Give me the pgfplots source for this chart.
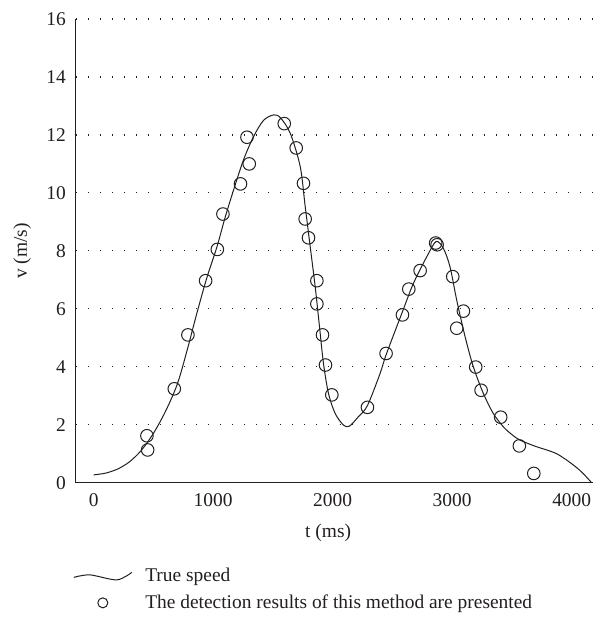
\documentclass[border=0pt]{standalone}
\usepackage{fontspec}
\setmainfont{Liberation Serif}
\usepackage{pgfplots}
\pgfplotsset{compat=1.18}
\definecolor{ink}{RGB}{35,31,32}
\begin{document}
\fontsize{19.5}{23}\selectfont
\begin{tikzpicture}
\begin{axis}[
 at={(0,0)}, anchor=south west,
 scale only axis, width=516.3bp, height=463.7bp,
 xmin=-150, xmax=4170, ymin=0, ymax=16,
 axis x line*=bottom, axis y line*=left,
 axis line style={ink, line width=1.1bp, -},
 x axis line style={-}, y axis line style={-},
 xtick={0,1000,2000,3000,4000},
 ytick={0,2,...,16},
 major tick length=0pt,
 ymajorgrids,
 grid style={ink, line width=1.2bp, dash pattern=on 1.2bp off 10.8bp},
 tick label style={font=\fontsize{19.5}{23}\selectfont, text=ink},
 xticklabel style={yshift=-3.8bp},
 yticklabel style={xshift=-3.2bp},
 /pgf/number format/assume math mode=true,
 /pgf/number format/1000 sep={},
 xlabel={t (ms)}, ylabel={v (m/s)},
 label style={font=\fontsize{19.5}{23}\selectfont, text=ink},
 xlabel style={at={(axis description cs:0.489,-0.108)}, anchor=center},
 ylabel style={at={(axis description cs:-0.1036,0.5)}, anchor=center},
 legend style={at={(axis description cs:-0.005,-0.1796)}, anchor=north west,
   draw=none, fill=none, inner sep=0pt, row sep=6bp,
   font=\fontsize{19.5}{23}\selectfont, text=ink},
 legend cell align=left,
]
\addplot[ink, line width=1bp, smooth, no marks,
  legend image code/.code={\draw[ink, line width=1bp] plot[smooth] coordinates {(0bp,-1bp) (16bp,1.5bp) (43bp,-3.5bp) (58bp,4bp)}; \path (0bp,0) (69bp,0);}]
 coordinates {
 (0,0.27) (100,0.33) (200,0.47) (300,0.72) (400,1.12) (500,1.70) (600,2.45)
 (700,3.40) (781,4.55) (864,5.85) (948,7.08) (1032,8.14) (1100,9.15) (1171,10.10)
 (1254,11.14) (1338,11.94) (1421,12.50) (1505,12.69) (1561,12.60) (1645,12.06)
 (1729,10.90) (1770,9.54) (1812,8.15) (1854,6.76) (1890,5.38) (1923,4.12)
 (1965,3.08) (2021,2.39) (2090,1.99) (2140,1.95) (2216,2.28) (2291,2.66)
 (2397,3.77) (2447,4.41) (2584,5.90) (2676,6.88) (2788,7.80) (2865,8.32)
 (2926,8.09) (2982,7.45) (3038,6.30) (3108,5.04) (3177,4.0) (3261,3.08)
 (3344,2.39) (3428,1.93) (3500,1.66) (3567,1.47) (3700,1.25) (3791,1.13) (3874,1.0)
 (3958,0.78) (4042,0.52) (4100,0.30) (4167,0)
 };
\addlegendentry{True speed}
\addplot[ink, only marks, mark=o, mark size=6.3bp, mark options={line width=1bp, ink},
  legend image code/.code={\draw[ink, line width=1bp] (29bp,0) circle (5bp); \path (0bp,0) (69bp,0);}]
 coordinates {
 (446,1.62) (452,1.13) (675,3.24) (789,5.10) (937,6.97) (1035,8.05) (1082,9.27)
 (1229,10.31) (1283,11.92) (1302,11.0) (1595,12.39) (1695,11.55) (1756,10.33)
 (1770,9.10) (1798,8.45) (1868,6.97) (1868,6.17) (1915,5.10) (1940,4.06)
 (1993,3.03) (2291,2.60) (2447,4.46) (2584,5.79) (2637,6.68) (2732,7.32)
 (2862,8.27) (2874,8.21) (3005,7.11) (3094,5.92) (3038,5.33) (3197,3.99)
 (3242,3.19) (3406,2.26) (3562,1.27) (3683,0.32)
 };
\addlegendentry{The detection results of this method are presented}
\end{axis}
\path (-75.7bp,-135.3bp) rectangle (517.3bp,482.7bp);
\end{tikzpicture}
\end{document}
